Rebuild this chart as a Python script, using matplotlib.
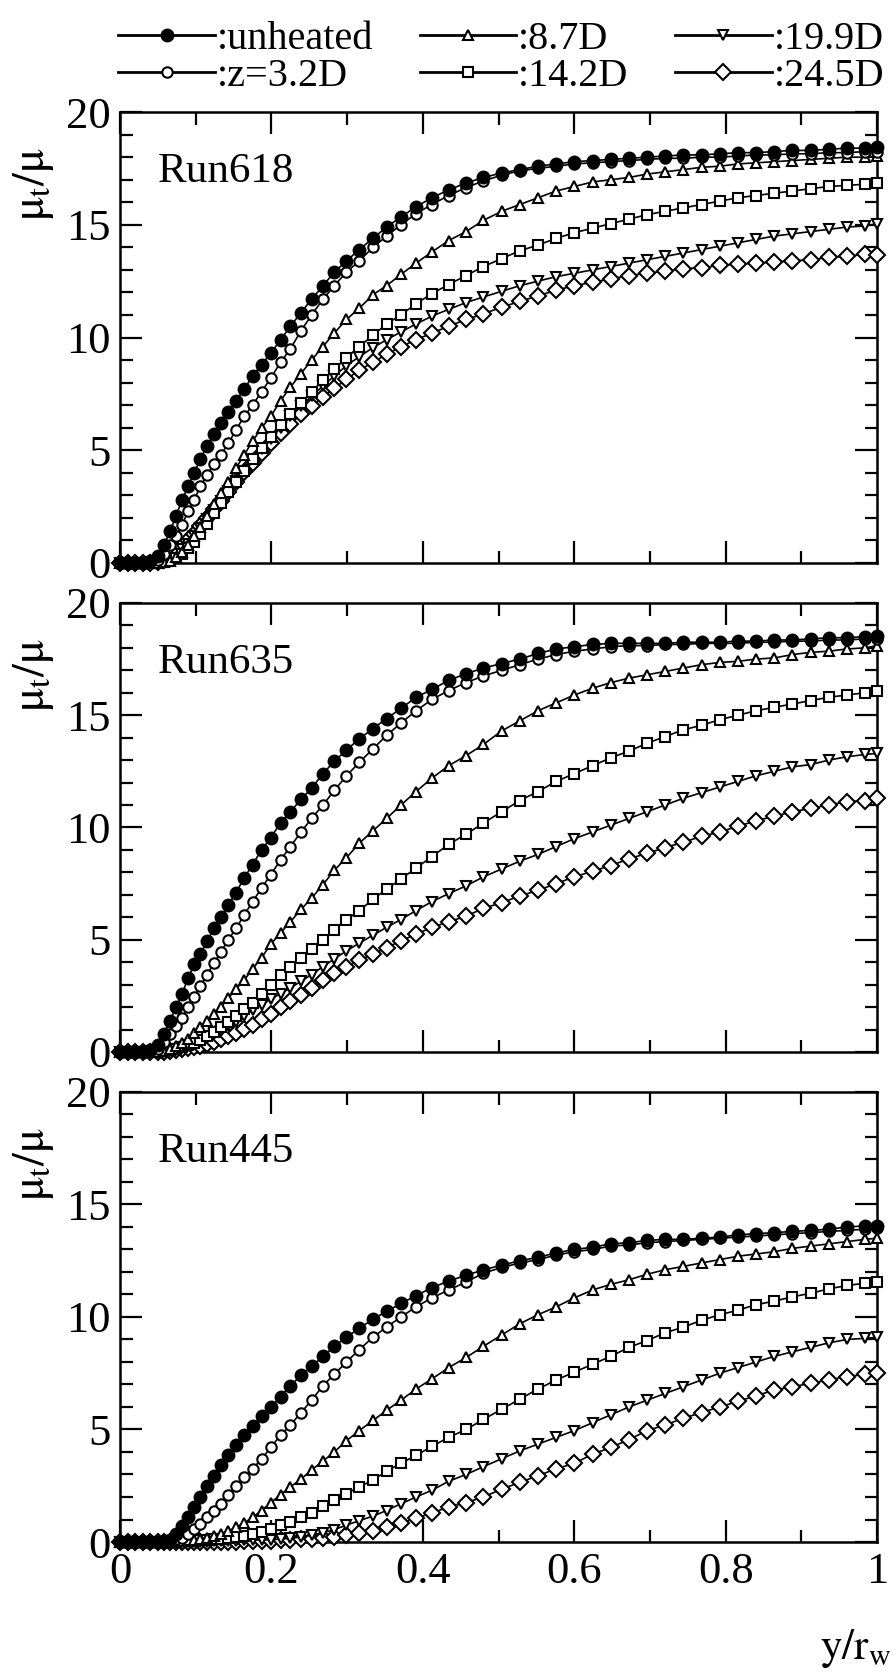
import matplotlib
matplotlib.use('Agg')
import matplotlib.pyplot as plt
from matplotlib.ticker import MultipleLocator, FuncFormatter
from matplotlib.lines import Line2D

plt.rcParams['font.family'] = ['Liberation Serif', 'DejaVu Serif']
plt.rcParams['mathtext.fontset'] = 'stix'

# y/r_w grid (shared by every profile)
x_grid = [0.0, 0.01, 0.02, 0.03, 0.04, 0.05, 0.058, 0.066, 0.074, 0.082,
          0.09, 0.098, 0.106, 0.115, 0.124, 0.133, 0.143, 0.153, 0.164, 0.175,
          0.187, 0.199, 0.212, 0.225, 0.239, 0.253, 0.268, 0.283, 0.299, 0.316,
          0.334, 0.352, 0.371, 0.391, 0.412, 0.434, 0.457, 0.48, 0.504, 0.528,
          0.552, 0.576, 0.6, 0.624, 0.648, 0.672, 0.696, 0.72, 0.744, 0.768,
          0.792, 0.816, 0.84, 0.864, 0.888, 0.912, 0.936, 0.96, 0.984, 1.0]

series_labels = [':unheated', ':z=3.2D', ':8.7D', ':14.2D', ':19.9D', ':24.5D']
run_names = ['Run618', 'Run635', 'Run445']

# ---- Run618
run618_unheated = [0, 0, 0, 0, 0.1, 0.3, 0.8, 1.4, 2.1, 2.8,
                   3.4, 4.0, 4.6, 5.2, 5.7, 6.2, 6.7, 7.2, 7.7, 8.3,
                   8.8, 9.3, 9.9, 10.5, 11.1, 11.7, 12.3, 12.9, 13.4, 13.9,
                   14.4, 14.9, 15.35, 15.8, 16.2, 16.55, 16.85, 17.1, 17.3, 17.45,
                   17.6, 17.7, 17.8, 17.85, 17.9, 17.95, 18.0, 18.05, 18.1, 18.1,
                   18.15, 18.2, 18.2, 18.25, 18.3, 18.3, 18.35, 18.4, 18.4, 18.45]
run618_z32 = [0, 0, 0, 0, 0.05, 0.15, 0.4, 0.8, 1.2, 1.7,
              2.3, 2.8, 3.4, 3.9, 4.4, 4.8, 5.3, 5.9, 6.5, 7.0,
              7.6, 8.2, 8.9, 9.5, 10.3, 11.0, 11.7, 12.3, 12.9, 13.4,
              14.0, 14.5, 15.0, 15.5, 15.9, 16.3, 16.65, 16.95, 17.2, 17.4,
              17.5, 17.6, 17.7, 17.75, 17.8, 17.85, 17.9, 17.95, 17.95, 18.0,
              18.0, 18.05, 18.1, 18.1, 18.15, 18.15, 18.2, 18.2, 18.25, 18.25]
run618_z87 = [0, 0, 0, 0, 0, 0.02, 0.05, 0.1, 0.25, 0.5,
              0.8, 1.2, 1.6, 2.1, 2.6, 3.1, 3.6, 4.2, 4.8, 5.4,
              6.0, 6.5, 7.2, 7.8, 8.4, 9.0, 9.6, 10.2, 10.8, 11.3,
              11.9, 12.3, 12.8, 13.3, 13.8, 14.3, 14.7, 15.2, 15.6, 15.9,
              16.2, 16.5, 16.7, 16.9, 17.0, 17.1, 17.25, 17.35, 17.45, 17.55,
              17.6, 17.7, 17.75, 17.8, 17.85, 17.9, 17.95, 18.0, 18.0, 18.05]
run618_z142 = [0, 0, 0, 0, 0, 0.01, 0.03, 0.08, 0.2, 0.4,
               0.65, 0.95, 1.3, 1.75, 2.2, 2.65, 3.15, 3.6, 4.1, 4.6,
               5.1, 5.6, 6.1, 6.6, 7.1, 7.6, 8.1, 8.6, 9.1, 9.6,
               10.1, 10.6, 11.0, 11.5, 11.95, 12.35, 12.75, 13.15, 13.5, 13.85,
               14.1, 14.4, 14.65, 14.85, 15.05, 15.25, 15.45, 15.6, 15.75, 15.9,
               16.05, 16.2, 16.3, 16.4, 16.5, 16.6, 16.7, 16.75, 16.8, 16.85]
run618_z199 = [0, 0, 0, 0, 0, 0.02, 0.08, 0.2, 0.38, 0.6,
               0.85, 1.2, 1.55, 1.95, 2.35, 2.75, 3.2, 3.65, 4.1, 4.6,
               5.05, 5.5, 6.0, 6.5, 6.95, 7.4, 7.85, 8.3, 8.75, 9.15,
               9.55, 9.9, 10.25, 10.6, 10.95, 11.25, 11.55, 11.8, 12.05, 12.3,
               12.5, 12.7, 12.85, 13.0, 13.15, 13.3, 13.45, 13.6, 13.75, 13.9,
               14.05, 14.2, 14.35, 14.5, 14.6, 14.7, 14.8, 14.9, 14.95, 15.05]
run618_z245 = [0, 0, 0, 0, 0, 0.05, 0.15, 0.3, 0.5, 0.75,
               1.0, 1.3, 1.65, 2.0, 2.4, 2.75, 3.15, 3.6, 4.05, 4.45,
               4.9, 5.3, 5.75, 6.15, 6.6, 6.95, 7.35, 7.75, 8.15, 8.55,
               8.9, 9.25, 9.6, 9.9, 10.2, 10.5, 10.8, 11.05, 11.35, 11.6,
               11.85, 12.1, 12.3, 12.45, 12.6, 12.75, 12.85, 12.95, 13.05, 13.1,
               13.2, 13.25, 13.3, 13.35, 13.4, 13.45, 13.55, 13.6, 13.7, 13.65]

# ---- Run635
run635_unheated = [0, 0, 0, 0, 0.1, 0.3, 0.8, 1.4, 2.0, 2.6,
                   3.3, 3.9, 4.35, 4.95, 5.5, 6.0, 6.55, 7.1, 7.75, 8.35,
                   9.0, 9.55, 10.2, 10.7, 11.25, 11.75, 12.4, 12.95, 13.45, 13.95,
                   14.4, 14.85, 15.3, 15.8, 16.15, 16.55, 16.85, 17.1, 17.3, 17.5,
                   17.75, 17.95, 18.05, 18.15, 18.2, 18.2, 18.2, 18.2, 18.25, 18.25,
                   18.25, 18.3, 18.3, 18.35, 18.35, 18.4, 18.45, 18.45, 18.5, 18.55]
run635_z32 = [0, 0, 0, 0, 0.05, 0.15, 0.45, 0.8, 1.15, 1.5,
              2.0, 2.45, 2.95, 3.45, 3.95, 4.45, 5.0, 5.5, 6.1, 6.7,
              7.3, 7.9, 8.55, 9.15, 9.8, 10.4, 11.0, 11.65, 12.3, 12.9,
              13.5, 14.1, 14.65, 15.2, 15.7, 16.1, 16.45, 16.75, 17.0, 17.25,
              17.5, 17.7, 17.85, 17.95, 18.05, 18.1, 18.1, 18.15, 18.15, 18.2,
              18.2, 18.2, 18.25, 18.25, 18.3, 18.3, 18.35, 18.35, 18.4, 18.4]
run635_z87 = [0, 0, 0, 0, 0, 0.02, 0.05, 0.12, 0.25, 0.4,
              0.6, 0.85, 1.1, 1.4, 1.7, 2.0, 2.4, 2.8, 3.2, 3.7,
              4.2, 4.8, 5.3, 5.8, 6.35, 6.85, 7.45, 8.1, 8.65, 9.3,
              9.85, 10.4, 11.0, 11.6, 12.2, 12.75, 13.2, 13.7, 14.3, 14.75,
              15.2, 15.55, 15.9, 16.2, 16.45, 16.65, 16.8, 16.95, 17.1, 17.25,
              17.35, 17.4, 17.5, 17.55, 17.7, 17.8, 17.85, 17.95, 18.0, 18.1]
run635_z142 = [0, 0, 0, 0, 0, 0.01, 0.03, 0.07, 0.13, 0.2,
               0.3, 0.42, 0.55, 0.72, 0.9, 1.1, 1.35, 1.6, 1.9, 2.2,
               2.6, 3.0, 3.45, 3.8, 4.2, 4.6, 5.0, 5.45, 5.9, 6.3,
               6.8, 7.25, 7.7, 8.2, 8.7, 9.25, 9.7, 10.2, 10.7, 11.2,
               11.6, 12.05, 12.4, 12.75, 13.1, 13.4, 13.75, 14.05, 14.35, 14.55,
               14.8, 15.0, 15.2, 15.35, 15.5, 15.65, 15.8, 15.9, 16.0, 16.1]
run635_z199 = [0, 0, 0, 0, 0, 0.01, 0.03, 0.06, 0.1, 0.17,
               0.25, 0.35, 0.48, 0.62, 0.78, 0.95, 1.15, 1.35, 1.6, 1.85,
               2.1, 2.35, 2.6, 2.85, 3.15, 3.45, 3.8, 4.15, 4.5, 4.85,
               5.2, 5.55, 5.9, 6.3, 6.7, 7.05, 7.4, 7.8, 8.15, 8.5,
               8.8, 9.15, 9.5, 9.8, 10.1, 10.4, 10.7, 11.0, 11.3, 11.55,
               11.8, 12.05, 12.3, 12.5, 12.7, 12.8, 13.0, 13.15, 13.25, 13.3]
run635_z245 = [0, 0, 0, 0, 0, 0.01, 0.02, 0.05, 0.08, 0.12,
               0.17, 0.22, 0.28, 0.36, 0.45, 0.56, 0.7, 0.85, 1.02, 1.2,
               1.45, 1.7, 2.0, 2.25, 2.55, 2.85, 3.2, 3.5, 3.8, 4.1,
               4.35, 4.65, 4.95, 5.25, 5.55, 5.8, 6.05, 6.4, 6.65, 6.95,
               7.2, 7.5, 7.8, 8.05, 8.3, 8.6, 8.85, 9.1, 9.35, 9.6,
               9.8, 10.05, 10.3, 10.5, 10.7, 10.85, 11.0, 11.15, 11.2, 11.3]

# ---- Run445
run445_unheated = [0, 0, 0, 0, 0, 0, 0, 0.1, 0.35, 0.7,
                   1.1, 1.55, 2.0, 2.5, 2.95, 3.4, 3.85, 4.3, 4.75, 5.15,
                   5.6, 6.0, 6.45, 6.95, 7.4, 7.8, 8.25, 8.7, 9.1, 9.5,
                   9.9, 10.25, 10.6, 10.95, 11.3, 11.6, 11.85, 12.1, 12.3, 12.5,
                   12.65, 12.85, 13.0, 13.1, 13.25, 13.3, 13.4, 13.45, 13.45, 13.5,
                   13.55, 13.65, 13.7, 13.75, 13.8, 13.85, 13.9, 14.0, 14.05, 14.05]
run445_z32 = [0, 0, 0, 0, 0, 0, 0.02, 0.06, 0.12, 0.2,
              0.35, 0.6, 0.8, 1.1, 1.4, 1.7, 2.1, 2.5, 2.9, 3.25,
              3.7, 4.2, 4.75, 5.2, 5.75, 6.3, 6.95, 7.45, 8.0, 8.55,
              9.1, 9.55, 10.0, 10.45, 10.85, 11.2, 11.55, 11.95, 12.2, 12.4,
              12.55, 12.75, 12.9, 13.0, 13.15, 13.2, 13.3, 13.35, 13.4, 13.45,
              13.5, 13.55, 13.6, 13.65, 13.7, 13.75, 13.8, 13.85, 13.9, 13.95]
run445_z87 = [0, 0, 0, 0, 0, 0, 0.01, 0.02, 0.03, 0.05,
              0.07, 0.1, 0.14, 0.2, 0.26, 0.35, 0.5, 0.65, 0.85, 1.1,
              1.4, 1.75, 2.1, 2.45, 2.8, 3.2, 3.6, 4.0, 4.5, 4.95,
              5.4, 5.85, 6.3, 6.8, 7.25, 7.75, 8.2, 8.7, 9.2, 9.7,
              10.1, 10.45, 10.85, 11.2, 11.45, 11.65, 11.9, 12.1, 12.25, 12.4,
              12.55, 12.7, 12.8, 12.9, 13.05, 13.15, 13.25, 13.35, 13.45, 13.5]
run445_z142 = [0, 0, 0, 0, 0, 0, 0, 0.01, 0.02, 0.03,
               0.04, 0.06, 0.08, 0.1, 0.12, 0.15, 0.19, 0.23, 0.28, 0.35,
               0.45, 0.58, 0.75, 0.9, 1.1, 1.3, 1.6, 1.85, 2.15, 2.45,
               2.75, 3.15, 3.5, 3.85, 4.25, 4.65, 5.0, 5.45, 5.9, 6.35,
               6.8, 7.2, 7.55, 7.9, 8.25, 8.65, 8.95, 9.3, 9.55, 9.85,
               10.1, 10.3, 10.55, 10.7, 10.9, 11.05, 11.25, 11.4, 11.5, 11.55]
run445_z199 = [0, 0, 0, 0, 0, 0, 0, 0, 0, 0.01,
               0.01, 0.01, 0.02, 0.02, 0.03, 0.04, 0.05, 0.06, 0.07, 0.08,
               0.09, 0.1, 0.13, 0.17, 0.22, 0.3, 0.42, 0.55, 0.75, 0.95,
               1.15, 1.4, 1.7, 2.0, 2.3, 2.7, 3.0, 3.35, 3.7, 4.05,
               4.35, 4.65, 4.95, 5.3, 5.65, 6.0, 6.3, 6.6, 6.9, 7.2,
               7.5, 7.75, 8.0, 8.25, 8.45, 8.65, 8.85, 9.0, 9.05, 9.1]
run445_z245 = [0, 0, 0, 0, 0, 0, 0, 0, 0, 0,
               0, 0, 0.01, 0.01, 0.01, 0.02, 0.02, 0.02, 0.03, 0.03,
               0.04, 0.05, 0.07, 0.09, 0.12, 0.15, 0.19, 0.23, 0.3, 0.4,
               0.5, 0.65, 0.85, 1.05, 1.3, 1.55, 1.75, 2.0, 2.35, 2.65,
               2.95, 3.25, 3.5, 3.9, 4.2, 4.55, 4.95, 5.2, 5.5, 5.75,
               6.0, 6.25, 6.5, 6.75, 6.9, 7.05, 7.2, 7.35, 7.45, 7.5]

panels = [
    [run618_unheated, run618_z32, run618_z87, run618_z142, run618_z199, run618_z245],
    [run635_unheated, run635_z32, run635_z87, run635_z142, run635_z199, run635_z245],
    [run445_unheated, run445_z32, run445_z87, run445_z142, run445_z199, run445_z245],
]

# marker style per series: (marker, face, size)
styles = [('o', 'k', 8.5), ('o', 'white', 7.5), ('^', 'white', 7.5),
          ('s', 'white', 7.5), ('v', 'white', 7.5), ('D', 'white', 8)]

fig = plt.figure(figsize=(8.96, 16.73), dpi=100)
rects = [[0.134, 0.6635, 0.845, 0.2695],
         [0.134, 0.3712, 0.845, 0.2684],
         [0.134, 0.0783, 0.845, 0.2690]]

fmt = FuncFormatter(lambda v, p: '%g' % v)

for i, (rect, data, name) in enumerate(zip(rects, panels, run_names)):
    ax = fig.add_axes(rect)
    # draw the unheated profile last so it sits on top
    for k in range(5, -1, -1):
        m, fc, ms = styles[k]
        ax.plot(x_grid, data[k], '-', color='k', lw=1.2, marker=m, mfc=fc,
                mec='k', ms=ms, mew=1.5, clip_on=False, zorder=3 + 6 - k)
    ax.set_xlim(0, 1)
    ax.set_ylim(0, 20)
    ax.xaxis.set_major_locator(MultipleLocator(0.2))
    ax.xaxis.set_minor_locator(MultipleLocator(0.1))
    ax.yaxis.set_major_locator(MultipleLocator(5))
    ax.yaxis.set_minor_locator(MultipleLocator(1))
    ax.xaxis.set_major_formatter(fmt)
    ax.yaxis.set_major_formatter(fmt)
    ax.tick_params(which='both', direction='in', top=True, right=True, width=1.6,
                   labelsize=32, pad=7)
    ax.tick_params(which='major', length=16)
    ax.tick_params(which='minor', length=9)
    for s in ax.spines.values():
        s.set_linewidth(1.8)
    if i < 2:
        ax.tick_params(labelbottom=False)
    ax.text(0.05, 0.867, name, transform=ax.transAxes, fontsize=31,
            ha='left', va='center')
    ax.text(-0.114, 0.84, r'$\mathrm{\mu_t/\mu}$', transform=ax.transAxes,
            fontsize=33, rotation=90, ha='center', va='center')

fig.text(0.955, 1 - 1648 / 1673, r'$\mathrm{y/r_w}$', fontsize=31,
         ha='center', va='center')

handles = []
for m, fc, ms in styles:
    handles.append(Line2D([], [], color='k', lw=2.0, marker=m, mfc=fc, mec='k',
                          ms=ms, mew=1.5))
fig.legend(handles, series_labels, ncol=3, loc='upper left',
           bbox_to_anchor=(0.132, 0.9875), frameon=False, fontsize=29,
           handlelength=2.4, handletextpad=0.05, columnspacing=1.15,
           labelspacing=0.0, borderaxespad=0.0, borderpad=0.0)

fig.savefig('out.png', dpi=100)
